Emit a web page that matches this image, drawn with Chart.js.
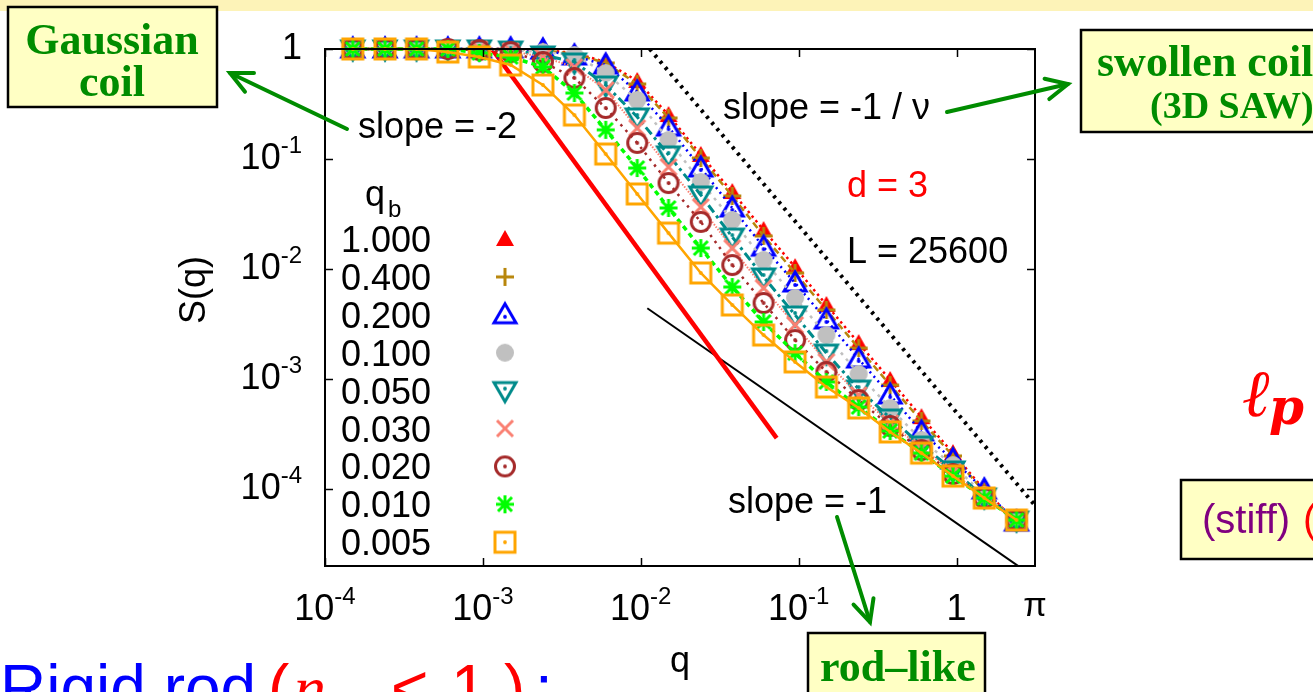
<!DOCTYPE html>
<html>
<head>
<meta charset="utf-8">
<script src="https://cdn.jsdelivr.net/npm/chart.js@4.4.0/dist/chart.umd.min.js"></script>
<style>
  html, body { margin: 0; padding: 0; background: #fff; overflow: hidden; }
</style>
</head>
<body>
<canvas id="sq" width="1313" height="692"></canvas>
<script>
// q values (same grid for every q_b)
const qValues = [1.5e-4, 2.4e-4, 3.8e-4, 6.0e-4, 9.5e-4, 1.5e-3, 2.4e-3, 3.8e-3, 6.0e-3, 9.5e-3,
                 0.015, 0.024, 0.038, 0.060, 0.095, 0.15, 0.24, 0.38, 0.60, 0.95, 1.5, 2.4];

const qbLabels = ['1.000', '0.400', '0.200', '0.100', '0.050', '0.030', '0.020', '0.010', '0.005'];

// S(q) for each q_b
const S_1000 = [1, 1, 1, 1, 1, 1, 0.979, 0.920, 0.762, 0.512, 0.251, 0.109, 0.0501, 0.0226, 0.0104, 0.00471, 0.00212, 9.8e-4, 4.5e-4, 2.12e-4, 9.8e-5, 5.0e-5];
const S_0400 = [1, 1, 1, 1, 1, 1, 0.979, 0.901, 0.746, 0.481, 0.236, 0.102, 0.0461, 0.0200, 0.0092, 0.00424, 0.00191, 8.8e-4, 4.15e-4, 2.0e-4, 9.4e-5, 5.0e-5];
const S_0200 = [1, 1, 1, 1, 1, 1, 0.979, 0.864, 0.715, 0.407, 0.195, 0.0828, 0.0359, 0.0158, 0.00746, 0.00344, 0.00152, 7.16e-4, 3.3e-4, 1.84e-4, 9.8e-5, 5.0e-5];
const S_0100 = [1, 1, 1, 1, 1, 0.979, 0.939, 0.882, 0.605, 0.344, 0.149, 0.0618, 0.0279, 0.0121, 0.00545, 0.00251, 0.00111, 5.45e-4, 2.79e-4, 1.65e-4, 8.8e-5, 5.22e-5];
const S_0050 = [1, 1, 1, 1, 1, 0.979, 0.882, 0.762, 0.471, 0.241, 0.109, 0.0471, 0.0195, 0.00846, 0.00382, 0.00172, 8.1e-4, 4.42e-4, 2.51e-4, 1.49e-4, 8.45e-5, 5.22e-5];
const S_0030 = [1, 1, 1, 1, 1, 0.959, 0.846, 0.686, 0.424, 0.191, 0.0846, 0.0366, 0.0155, 0.00672, 0.0031, 0.00143, 7.16e-4, 3.98e-4, 2.36e-4, 1.43e-4, 8.28e-5, 5.22e-5];
const S_0020 = [1, 1, 1, 1, 0.979, 0.939, 0.762, 0.545, 0.291, 0.140, 0.0605, 0.0268, 0.01087, 0.00491, 0.00226, 0.00116, 6.45e-4, 3.74e-4, 2.26e-4, 1.37e-4, 8.28e-5, 5.22e-5];
const S_0010 = [1, 1, 1, 1, 0.920, 0.846, 0.686, 0.398, 0.184, 0.0828, 0.0359, 0.0155, 0.00686, 0.0033, 0.00172, 9.4e-4, 5.56e-4, 3.37e-4, 2.12e-4, 1.31e-4, 8.28e-5, 5.22e-5];
const S_0005 = [1, 1, 1, 0.939, 0.846, 0.715, 0.471, 0.251, 0.111, 0.0481, 0.0212, 0.0092, 0.00471, 0.00251, 0.00143, 8.45e-4, 5.45e-4, 3.3e-4, 2.12e-4, 1.31e-4, 8.28e-5, 5.22e-5];

// guide lines: [q, S] end points
const slope2Line = [[1.14e-3, 1], [0.0726, 2.9e-4]];
const slope1Line = [[0.011, 4.4e-3], [2.45, 2.0e-5]];
const slopeNuLine = [[0.0114, 1], [Math.PI, 7.1e-5]];

// axis ticks
const xTickValues = [1e-4, 1e-3, 1e-2, 1e-1, 1];
const xTickExp = ['-4', '-3', '-2', '-1', ''];
const yTickValues = [1, 1e-1, 1e-2, 1e-3, 1e-4];
const yTickExp = ['', '-1', '-2', '-3', '-4'];

const allSeries = [S_1000, S_0400, S_0200, S_0100, S_0050, S_0030, S_0020, S_0010, S_0005];
const colors = ['#ff0000', '#b8860b', '#0000ff', '#c0c0c0', '#008b8b', '#fa8072', '#a52a2a', '#00ff00', '#ffa500'];
const markers = ['triFill', 'plus', 'triOpen', 'circFill', 'triDown', 'cross', 'circDot', 'star', 'sqDot'];
const dashes = [[2.5, 3.5], [7, 4], [2, 4], [3, 5], [9, 4, 3, 4], [1.5, 1.5], [2.5, 5], [5, 4], []];
const widths = [2.5, 2.5, 2.5, 2.5, 3, 2, 2.5, 3.5, 2.5];

const SANS = '"Liberation Sans", Arial, Helvetica, sans-serif';
const SERIF = '"Liberation Serif", "Times New Roman", serif';
const GREEN = '#008c00';

function makeMarker(kind, color) {
    const c = document.createElement('canvas');
    c.width = 30; c.height = 30;
    const g = c.getContext('2d');
    const m = 15;
    g.strokeStyle = color;
    g.fillStyle = color;
    g.lineWidth = 3;
    const dot = (y) => { g.beginPath(); g.arc(m, y, 1.9, 0, Math.PI * 2); g.fill(); };
    g.beginPath();
    if (kind === 'triFill') {
        g.moveTo(m, m - 9); g.lineTo(m + 9, m + 7); g.lineTo(m - 9, m + 7); g.closePath(); g.fill();
    } else if (kind === 'plus') {
        g.moveTo(m - 9, m); g.lineTo(m + 9, m); g.moveTo(m, m - 9); g.lineTo(m, m + 9); g.stroke();
    } else if (kind === 'triOpen') {
        g.moveTo(m, m - 11); g.lineTo(m + 11, m + 8); g.lineTo(m - 11, m + 8); g.closePath(); g.stroke(); dot(m + 2);
    } else if (kind === 'circFill') {
        g.arc(m, m, 9, 0, Math.PI * 2); g.fill();
    } else if (kind === 'triDown') {
        g.moveTo(m, m + 11); g.lineTo(m + 11, m - 8); g.lineTo(m - 11, m - 8); g.closePath(); g.stroke(); dot(m - 2);
    } else if (kind === 'cross') {
        g.moveTo(m - 8, m - 8); g.lineTo(m + 8, m + 8); g.moveTo(m + 8, m - 8); g.lineTo(m - 8, m + 8); g.stroke();
    } else if (kind === 'circDot') {
        g.arc(m, m, 9.5, 0, Math.PI * 2); g.stroke(); dot(m);
    } else if (kind === 'star') {
        g.moveTo(m - 9, m); g.lineTo(m + 9, m); g.moveTo(m, m - 9); g.lineTo(m, m + 9);
        g.moveTo(m - 7, m - 7); g.lineTo(m + 7, m + 7); g.moveTo(m + 7, m - 7); g.lineTo(m - 7, m + 7); g.stroke();
    } else if (kind === 'sqDot') {
        g.rect(m - 10, m - 10, 20, 20); g.stroke(); dot(m);
    }
    return c;
}

const markerImages = markers.map((k, i) => makeMarker(k, colors[i]));

const datasets = [];
allSeries.forEach((vals, i) => {
    datasets.push({
        label: qbLabels[i],
        data: qValues.map((q, j) => ({ x: q, y: vals[j] })),
        showLine: true,
        borderColor: colors[i],
        borderWidth: widths[i],
        borderDash: dashes[i],
        pointStyle: markerImages[i],
        pointRadius: 6,
        order: allSeries.length - i + 3,
        clip: false
    });
});

function guide(points, color, width, dash) {
    return {
        label: '',
        data: points.map(p => ({ x: p[0], y: p[1] })),
        showLine: true,
        borderColor: color,
        borderWidth: width,
        borderDash: dash,
        pointRadius: 0,
        order: 20
    };
}
datasets.push(guide(slope2Line, '#ff0000', 4.5, []));
datasets.push(guide(slope1Line, '#000000', 2, []));
datasets.push(guide(slopeNuLine, '#000000', 4, [3, 5]));

function powLabel(ctx, exp, x, y, align) {
    const big = '36px ' + SANS, small = '24px ' + SANS;
    ctx.font = big;
    const base = exp === '' ? '1' : '10';
    const w1 = ctx.measureText(base).width;
    ctx.font = small;
    const w2 = exp === '' ? 0 : ctx.measureText(exp).width;
    const total = w1 + w2;
    let x0 = align === 'center' ? x - total / 2 : x - total;
    ctx.textAlign = 'left';
    ctx.textBaseline = 'alphabetic';
    ctx.font = big;
    ctx.fillText(base, x0, y);
    if (exp !== '') {
        ctx.font = small;
        ctx.fillText(exp, x0 + w1, y - 16);
    }
}

function arrow(ctx, x1, y1, x2, y2) {
    ctx.save();
    ctx.strokeStyle = GREEN;
    ctx.lineWidth = 4;
    ctx.lineCap = 'round';
    ctx.beginPath(); ctx.moveTo(x1, y1); ctx.lineTo(x2, y2); ctx.stroke();
    const a = Math.atan2(y2 - y1, x2 - x1), L = 24, w = 0.45;
    ctx.beginPath();
    ctx.moveTo(x2 - L * Math.cos(a - w), y2 - L * Math.sin(a - w));
    ctx.lineTo(x2, y2);
    ctx.lineTo(x2 - L * Math.cos(a + w), y2 - L * Math.sin(a + w));
    ctx.stroke();
    ctx.restore();
}

function box(ctx, x, y, w, h) {
    ctx.save();
    ctx.fillStyle = '#ffffc4';
    ctx.fillRect(x, y, w, h);
    ctx.strokeStyle = '#000';
    ctx.lineWidth = 2.5;
    ctx.strokeRect(x, y, w, h);
    ctx.restore();
}

const decorPlugin = {
    id: 'decor',
    beforeDraw(chart) {
        const ctx = chart.ctx;
        ctx.save();
        ctx.fillStyle = '#fff';
        ctx.fillRect(0, 0, chart.width, chart.height);
        ctx.fillStyle = '#fdf3b8';
        ctx.fillRect(0, 0, chart.width, 11);
        ctx.restore();
    },
    afterDatasetsDraw(chart) {
        const ctx = chart.ctx;
        const a = chart.chartArea;
        const xs = chart.scales.x, ys = chart.scales.y;
        ctx.save();
        ctx.strokeStyle = '#000';
        ctx.lineWidth = 2;
        ctx.strokeRect(a.left, a.top, a.right - a.left, a.bottom - a.top);
        ctx.lineWidth = 1.5;
        ctx.beginPath();
        xTickValues.forEach(v => {
            const px = Math.round(xs.getPixelForValue(v)) + 0.5;
            ctx.moveTo(px, a.bottom); ctx.lineTo(px, a.bottom - 8);
            ctx.moveTo(px, a.top); ctx.lineTo(px, a.top + 8);
        });
        yTickValues.forEach(v => {
            const py = Math.round(ys.getPixelForValue(v)) + 0.5;
            ctx.moveTo(a.left, py); ctx.lineTo(a.left + 8, py);
            ctx.moveTo(a.right, py); ctx.lineTo(a.right - 8, py);
        });
        ctx.stroke();

        // tick labels
        ctx.fillStyle = '#000';
        xTickValues.forEach((v, i) => powLabel(ctx, xTickExp[i], xs.getPixelForValue(v), 620, 'center'));
        ctx.font = '34px ' + SANS;
        ctx.textAlign = 'center';
        ctx.fillText('\u03c0', xs.getPixelForValue(Math.PI), 616);
        yTickValues.forEach((v, i) => powLabel(ctx, yTickExp[i], 302, ys.getPixelForValue(v) + 10, 'right'));

        // axis titles
        ctx.font = '36px ' + SANS;
        ctx.textAlign = 'center';
        ctx.fillText('q', (a.left + a.right) / 2, 672);
        ctx.save();
        ctx.translate(205, 290);
        ctx.rotate(-Math.PI / 2);
        ctx.fillText('S(q)', 0, 0);
        ctx.restore();

        // key
        ctx.textAlign = 'left';
        ctx.fillText('q', 365, 206);
        ctx.font = '24px ' + SANS;
        ctx.fillText('b', 388, 217);
        ctx.font = '36px ' + SANS;
        ctx.textAlign = 'right';
        qbLabels.forEach((lab, i) => {
            const yy = 239 + 37.9 * i;
            ctx.fillText(lab, 431, yy + 13);
            const im = markerImages[i];
            ctx.drawImage(im, 505 - im.width / 2, yy - im.height / 2);
        });

        // in-plot notes
        ctx.textAlign = 'left';
        ctx.fillText('slope = -2', 358, 138);
        ctx.fillText('slope = -1 / \u03bd', 723, 119);
        ctx.fillText('L = 25600', 847, 263);
        ctx.fillText('slope = -1', 728, 513);
        ctx.fillStyle = '#ff0000';
        ctx.fillText('d = 3', 847, 197);
        ctx.restore();
    },
    afterDraw(chart) {
        const ctx = chart.ctx;
        ctx.save();
        // boxes
        box(ctx, 8, 7, 209, 100);
        box(ctx, 1081, 30, 250, 102);
        box(ctx, 808, 633, 177, 80);
        box(ctx, 1181, 480, 150, 79);

        ctx.fillStyle = GREEN;
        ctx.font = 'bold 44px ' + SERIF;
        ctx.textAlign = 'center';
        ctx.fillText('Gaussian', 112, 54);
        ctx.fillText('coil', 112, 96);
        ctx.textAlign = 'left';
        ctx.fillText('swollen coil', 1097, 76);
        ctx.fillText('rod\u2013like', 820, 681);
        ctx.font = 'bold 38px ' + SERIF;
        ctx.fillText('(3D SAW)', 1150, 118);

        ctx.fillStyle = '#800080';
        ctx.font = '40px ' + SANS;
        ctx.fillText('(stiff)', 1202, 533);
        ctx.fillStyle = '#ff0000';
        ctx.fillText('(', 1303, 533);

        // persistence length symbol
        ctx.font = 'bold italic 66px "DejaVu Serif", ' + SERIF;
        ctx.fillText('\u2113', 1243, 416);
        ctx.font = 'bold italic 50px "DejaVu Serif", ' + SERIF;
        ctx.fillText('p', 1269, 424);

        // bottom line of slide
        ctx.font = '64px ' + SANS;
        ctx.fillStyle = '#0000ff';
        ctx.fillText('Rigid rod', 0, 710);
        ctx.fillText(':', 535, 710);
        ctx.fillStyle = '#ff0000';
        ctx.fillText('(', 268, 710);
        ctx.fillText('<', 391, 710);
        ctx.fillText('1', 451, 710);
        ctx.fillText(')', 504, 710);
        ctx.font = 'italic 64px ' + SERIF;
        ctx.fillText('n', 294, 710);

        // arrows
        arrow(ctx, 347, 129, 230, 73);
        arrow(ctx, 947, 112, 1068, 84);
        arrow(ctx, 837, 517, 870, 622);
        ctx.restore();
    }
};

new Chart(document.getElementById('sq').getContext('2d'), {
    type: 'scatter',
    data: { datasets: datasets },
    options: {
        responsive: false,
        devicePixelRatio: 1,
        animation: false,
        events: [],
        layout: { padding: { left: 0, top: 49, right: 278, bottom: 0 } },
        scales: {
            x: {
                type: 'logarithmic',
                min: 1e-4,
                max: Math.PI,
                ticks: { display: false },
                grid: { display: false },
                border: { display: false },
                afterFit: function (scale) { scale.height = 126; }
            },
            y: {
                type: 'logarithmic',
                min: Math.pow(10, -4.7),
                max: 1,
                ticks: { display: false },
                grid: { display: false },
                border: { display: false },
                afterFit: function (scale) { scale.width = 325; }
            }
        },
        plugins: {
            legend: { display: false },
            tooltip: { enabled: false }
        }
    },
    plugins: [decorPlugin]
});
</script>
</body>
</html>
